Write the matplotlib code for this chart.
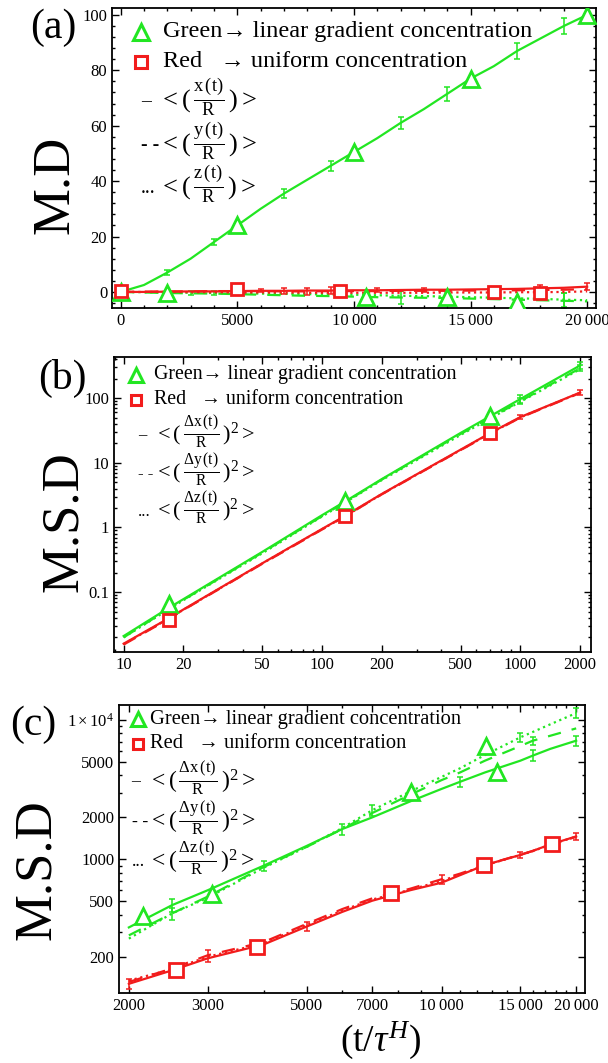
import numpy as np
import matplotlib
matplotlib.use("Agg")
import matplotlib.pyplot as plt
from matplotlib.ticker import FixedLocator, NullFormatter

plt.rcParams['font.family'] = ['Liberation Serif', 'DejaVu Serif']
plt.rcParams['mathtext.fontset'] = 'custom'
plt.rcParams['mathtext.rm'] = 'Liberation Serif'
plt.rcParams['mathtext.it'] = 'Liberation Serif:italic'

GREEN = '#22e622'
RED = '#f21c1c'

# ---------- panel (a): mean displacement ----------
t_a = [0, 1000, 2000, 3000, 4000, 5000, 6000, 7000, 8000, 9000, 10000,
       11000, 12000, 13000, 14000, 15000, 16000, 17000, 18000, 19000, 20000]
green_x_a = [0, 2.5, 7, 12, 18, 24, 30, 35.5, 40.5, 45.5, 50.5,
             55.5, 61, 66, 71.5, 77, 81.5, 87, 91.5, 96, 100]
green_x_a_err = [0, 0, 1, 0, 1.2, 0, 0, 1.5, 0, 1.8, 0,
                 0, 2.2, 0, 2.5, 0, 0, 2.8, 0, 3, 0]
green_y_a = [0, -0.2, -0.4, -0.5, -0.6, -0.8, -1.0, -1.2, -1.4, -1.5, -1.7,
             -1.9, -2.0, -2.1, -2.2, -2.4, -2.6, -2.8, -3.0, -3.2, -3.4]
green_y_a_err = [0, 0, 0, 0, 0, 0, 0, 0, 0, 0, 0,
                 0, 2.5, 0, 0, 0, 0, 0, 0, 2.8, 0]
green_z_a = [0, -0.1, -0.2, -0.3, -0.4, -0.5, -0.6, -0.7, -0.8, -0.9, -1.0,
             -1.2, -1.4, -1.5, -1.7, -1.9, -2.1, -2.3, -2.5, -2.8, -3.0]
green_z_a_err = [0, 0, 0, 0.8, 0.8, 0, 0, 0, 0, 0, 0,
                 0, 0, 0, 0, 0, 0, 0, 0, 2.5, 0]
red_x_a = [0, 0.0, 0.1, 0.2, 0.2, 0.3, 0.4, 0.4, 0.5, 0.5, 0.6,
           0.6, 0.7, 0.8, 0.8, 0.9, 1.0, 1.1, 1.3, 1.5, 1.9]
red_x_a_err = [0, 0, 0, 0, 0, 0, 0.5, 1.2, 0, 1.2, 0,
               0.8, 0, 0.8, 0, 0, 0, 0, 1.2, 0, 1.2]
red_y_a = [0, 0.1, 0.2, 0.2, 0.3, 0.3, 0.3, 0.2, 0.2, 0.3, 0.3,
           0.3, 0.4, 0.4, 0.4, 0.5, 0.5, 0.6, 0.7, 0.8, 1.0]
red_y_a_err = [0, 0, 0, 0, 0, 0, 0, 0, 1.2, 0, 0,
               0, 0, 0, 0, 0, 0, 0, 0, 0, 0]
red_z_a = [0, 0, 0, -0.1, -0.1, -0.2, -0.2, -0.2, -0.3, -0.3, -0.3,
           -0.3, -0.3, -0.3, -0.2, -0.2, -0.2, -0.1, -0.1, 0, 0.2]
red_z_a_err = [0] * 21
green_mk_t_a = [0, 2000, 5000, 10000, 10500, 14000, 15000, 17000, 20000]
green_mk_v_a = [0, -0.5, 24, 50.5, -1.8, -1.8, 77, -3.5, 100]
red_mk_t_a = [0, 5000, 9400, 16000, 18000]
red_mk_v_a = [0.5, 1.2, 0.5, 0.0, -0.5]

# ---------- panel (b): MSD, short times ----------
t_b = [10, 17, 20, 50, 100, 130, 200, 500, 700, 1000, 2000]
green_x_b = [0.021, 0.058, 0.078, 0.42, 1.55, 2.5, 5.6, 29, 52, 97, 320]
green_x_b_err = [0, 0, 0, 0, 0, 0, 0, 0, 0, 14, 40]
green_y_b = [0.020, 0.056, 0.076, 0.41, 1.5, 2.45, 5.5, 28, 49, 90, 290]
green_y_b_err = [0, 0, 0, 0, 0, 0, 0, 0, 0, 10, 30]
green_z_b = [0.020, 0.055, 0.075, 0.40, 1.48, 2.4, 5.4, 27, 48, 88, 280]
green_z_b_err = [0] * 11
red_x_b = [0.016, 0.040, 0.054, 0.28, 0.95, 1.5, 3.3, 16, 28.6, 51, 122]
red_x_b_err = [0, 0, 0, 0, 0, 0, 0, 0, 0, 3, 10]
red_y_b = [0.0155, 0.039, 0.053, 0.275, 0.93, 1.47, 3.25, 15.7, 28, 50, 120]
red_y_b_err = [0] * 11
red_z_b = [0.0158, 0.0395, 0.0535, 0.278, 0.94, 1.48, 3.28, 15.8, 28.3, 50.5, 121]
red_z_b_err = [0] * 11
green_mk_t_b = [17, 130, 700]
green_mk_v_b = [0.065, 2.6, 52]
red_mk_t_b = [17, 130, 700]
red_mk_v_b = [0.037, 1.5, 28.6]

# ---------- panel (c): MSD, long times ----------
t_c = [2000, 2500, 3000, 4000, 5000, 6000, 7000, 8500, 10000, 11000,
       12500, 15000, 16000, 17500, 20000]
green_x_c = [325, 470, 600, 900, 1250, 1650, 2000, 2600, 3200, 3600,
             4200, 5100, 5550, 6200, 7100]
green_x_c_err = [0, 50, 0, 70, 0, 150, 0, 0, 0, 300, 0, 0, 500, 0, 600]
green_y_c = [285, 410, 540, 880, 1230, 1650, 2150, 2900, 3700, 4200,
             5100, 6500, 7100, 7700, 8700]
green_y_c_err = [0, 0, 0, 0, 0, 0, 0, 0, 0, 0, 0, 0, 500, 0, 0]
green_z_c = [270, 410, 530, 870, 1230, 1680, 2250, 3060, 3900, 4500,
             5600, 7500, 8200, 9300, 11200]
green_z_c_err = [0, 40, 0, 0, 0, 0, 200, 0, 0, 0, 0, 600, 0, 0, 900]
red_x_c = [128, 160, 195, 245, 330, 420, 505, 600, 680, 770,
           910, 1075, 1150, 1280, 1460]
red_x_c_err = [10, 0, 0, 0, 25, 0, 0, 0, 0, 0, 0, 60, 0, 0, 80]
red_y_c = [132, 165, 205, 255, 345, 440, 525, 615, 720, 790,
           910, 1080, 1150, 1280, 1450]
red_y_c_err = [0, 0, 20, 0, 0, 0, 0, 0, 50, 0, 0, 0, 0, 0, 0]
red_z_c = [135, 163, 200, 250, 338, 430, 515, 605, 700, 780,
           905, 1075, 1145, 1275, 1455]
red_z_c_err = [0] * 15
green_mk_t_c = [2150, 3070, 8540, 12600, 13320]
green_mk_v_c = [392, 564, 3060, 6500, 4260]
red_mk_t_c = [2550, 3860, 7720, 12460, 17630]
red_mk_v_c = [160, 236, 570, 910, 1290]

legend_green = 'Green\u2192 linear gradient concentration'
legend_red = 'Red   \u2192 uniform concentration'


def series(ax, t, v, err, color, ls):
    t = np.array(t, float)
    v = np.array(v, float)
    err = np.array(err, float)
    ax.plot(t, v, color=color, ls=ls, lw=1.6)
    m = err > 0
    if m.any():
        ax.errorbar(t[m], v[m], yerr=err[m], fmt='none', ecolor=color,
                    elinewidth=1.1, capsize=2.2, capthick=1.1)


def markers(ax, t, v, color, shape, size):
    ax.plot(t, v, ls='none', marker=shape, ms=size, mfc='white',
            mec=color, mew=2.0, zorder=5)


def style(ax):
    for s in ax.spines.values():
        s.set_linewidth(1.3)
    ax.tick_params(which='both', direction='in', top=True, right=True,
                   labelsize=12, width=1.0)
    ax.tick_params(which='major', length=5)
    ax.tick_params(which='minor', length=2.5)


def legend(ax, x_mk, x_txt, y_rows, fr_rows, x_dash, fracs, fs, ffs, gap, ms):
    ax.plot([x_mk], [y_rows[0]], transform=ax.transAxes, marker='^', ms=ms,
            mfc='white', mec=GREEN, mew=2.2, ls='none', clip_on=False)
    ax.plot([x_mk], [y_rows[1]], transform=ax.transAxes, marker='s',
            ms=ms * 0.78, mfc='white', mec=RED, mew=2.2, ls='none',
            clip_on=False)
    ax.text(x_txt, y_rows[0], legend_green, transform=ax.transAxes,
            fontsize=fs, va='center')
    ax.text(x_txt, y_rows[1], legend_red, transform=ax.transAxes,
            fontsize=fs, va='center')
    for y, lead, f in zip(fr_rows, ['\u2013', '- -', '...'], fracs):
        ax.text(x_dash, y - 0.012, lead, transform=ax.transAxes,
                fontsize=ffs * 0.75, va='center', ha='left')
        ax.text(x_dash + gap, y, f, transform=ax.transAxes, fontsize=ffs,
                va='center', ha='left')


fig = plt.figure(figsize=(6.08, 10.63), dpi=100)
W, H = 608, 1063


def axes_px(l, r, t, b):
    return fig.add_axes([l / W, 1 - b / H, (r - l) / W, (b - t) / H])


# ----- (a) -----
ax = axes_px(112, 596, 8, 308)
series(ax, t_a, green_x_a, green_x_a_err, GREEN, '-')
series(ax, t_a, green_y_a, green_y_a_err, GREEN, (0, (6, 5)))
series(ax, t_a, green_z_a, green_z_a_err, GREEN, ':')
series(ax, t_a, red_x_a, red_x_a_err, RED, '-')
series(ax, t_a, red_y_a, red_y_a_err, RED, (0, (6, 5)))
series(ax, t_a, red_z_a, red_z_a_err, RED, ':')
markers(ax, green_mk_t_a, green_mk_v_a, GREEN, '^', 11)
markers(ax, red_mk_t_a, red_mk_v_a, RED, 's', 9)
ax.set_xlim(-370, 20380)
ax.set_ylim(-5.8, 102.5)
ax.xaxis.set_major_locator(FixedLocator([0, 5000, 10000, 15000, 20000]))
ax.set_xticklabels(['0', '5000', '10\u2009000', '15\u2009000', '20\u2009000'])
ax.xaxis.set_minor_locator(FixedLocator(np.arange(0, 20001, 1000)))
ax.yaxis.set_major_locator(FixedLocator([0, 20, 40, 60, 80, 100]))
ax.yaxis.set_minor_locator(FixedLocator(np.arange(-4, 101, 4)))
style(ax)
legend(ax, 0.06, 0.105, [0.92, 0.82], [0.70, 0.555, 0.41], 0.06,
       [r'$<(\,\frac{\mathrm{x\,(t)}}{\mathrm{R}}\,)>$',
        r'$<(\,\frac{\mathrm{y\,(t)}}{\mathrm{R}}\,)>$',
        r'$<(\,\frac{\mathrm{z\,(t)}}{\mathrm{R}}\,)>$'], 17.5, 19, 0.038, 11)
fig.text(55 / W, 1 - 185 / H, 'M.D', rotation=90, fontsize=38,
         ha='center', va='center')
fig.text(53 / W, 1 - 28 / H, '(a)', fontsize=30, ha='center', va='center')

# ----- (b) -----
ax = axes_px(114, 591, 357, 652)
ax.set_xscale('log')
ax.set_yscale('log')
series(ax, t_b, green_x_b, green_x_b_err, GREEN, '-')
series(ax, t_b, green_y_b, green_y_b_err, GREEN, (0, (6, 5)))
series(ax, t_b, green_z_b, green_z_b_err, GREEN, ':')
series(ax, t_b, red_x_b, red_x_b_err, RED, '-')
series(ax, t_b, red_y_b, red_y_b_err, RED, (0, (6, 5)))
series(ax, t_b, red_z_b, red_z_b_err, RED, ':')
markers(ax, green_mk_t_b, green_mk_v_b, GREEN, '^', 11)
markers(ax, red_mk_t_b, red_mk_v_b, RED, 's', 9)
ax.set_xlim(8.94, 2268)
ax.set_ylim(0.0119, 432)
xt = [10, 20, 50, 100, 200, 500, 1000, 2000]
ax.xaxis.set_major_locator(FixedLocator(xt))
ax.set_xticklabels([str(v) for v in xt])
ax.xaxis.set_minor_locator(FixedLocator(
    [m * 10 ** e for e in range(0, 4) for m in range(1, 10)]))
ax.xaxis.set_minor_formatter(NullFormatter())
ax.yaxis.set_major_locator(FixedLocator([0.1, 1, 10, 100]))
ax.set_yticklabels(['0.1', '1', '10', '100'])
ax.yaxis.set_minor_locator(FixedLocator(
    [m * 10.0 ** e for e in range(-2, 3) for m in range(1, 10)]))
ax.yaxis.set_minor_formatter(NullFormatter())
style(ax)
legend(ax, 0.046, 0.084, [0.94, 0.855], [0.746, 0.617, 0.488], 0.05,
       [r'$<(\,\frac{\mathrm{\Delta x\,(t)}}{\mathrm{R}}\,)^2>$',
        r'$<(\,\frac{\mathrm{\Delta y\,(t)}}{\mathrm{R}}\,)^2>$',
        r'$<(\,\frac{\mathrm{\Delta z\,(t)}}{\mathrm{R}}\,)^2>$'],
       14.3, 16, 0.034, 10)
fig.text(64 / W, 1 - 522 / H, 'M.S.D', rotation=90, fontsize=38,
         ha='center', va='center')
fig.text(62 / W, 1 - 378 / H, '(b)', fontsize=30, ha='center', va='center')

# ----- (c) -----
ax = axes_px(119, 585, 705, 993)
ax.set_xscale('log')
ax.set_yscale('log')
series(ax, t_c, green_x_c, green_x_c_err, GREEN, '-')
series(ax, t_c, green_y_c, green_y_c_err, GREEN, (0, (6, 5)))
series(ax, t_c, green_z_c, green_z_c_err, GREEN, ':')
series(ax, t_c, red_x_c, red_x_c_err, RED, '-')
series(ax, t_c, red_y_c, red_y_c_err, RED, (0, (6, 5)))
series(ax, t_c, red_z_c, red_z_c_err, RED, ':')
markers(ax, green_mk_t_c, green_mk_v_c, GREEN, '^', 11)
markers(ax, red_mk_t_c, red_mk_v_c, RED, 's', 10)
ax.set_xlim(1901, 20930)
ax.set_ylim(110, 12800)
xt = [2000, 3000, 5000, 7000, 10000, 15000, 20000]
ax.xaxis.set_major_locator(FixedLocator(xt))
ax.set_xticklabels(['2000', '3000', '5000', '7000', '10\u2009000',
                    '15\u2009000', '20\u2009000'])
ax.xaxis.set_minor_locator(FixedLocator(
    [m * 1000 for m in range(2, 21)]))
ax.xaxis.set_minor_formatter(NullFormatter())
yt = [200, 500, 1000, 2000, 5000, 10000]
ax.yaxis.set_major_locator(FixedLocator(yt))
ax.set_yticklabels(['200', '500', '1000', '2000', '5000', r'$1\times10^4$'])
ax.yaxis.set_minor_locator(FixedLocator(
    [m * 10.0 ** e for e in range(2, 5) for m in range(1, 10)]))
ax.yaxis.set_minor_formatter(NullFormatter())
style(ax)
legend(ax, 0.04, 0.067, [0.95, 0.865], [0.746, 0.607, 0.469], 0.027,
       [r'$<(\,\frac{\mathrm{\Delta x\,(t)}}{\mathrm{R}}\,)^2>$',
        r'$<(\,\frac{\mathrm{\Delta y\,(t)}}{\mathrm{R}}\,)^2>$',
        r'$<(\,\frac{\mathrm{\Delta z\,(t)}}{\mathrm{R}}\,)^2>$'],
       14.8, 17, 0.036, 10)
fig.text(37 / W, 1 - 870 / H, 'M.S.D', rotation=90, fontsize=38,
         ha='center', va='center')
fig.text(33 / W, 1 - 725 / H, '(c)', fontsize=30, ha='center', va='center')
fig.text(380 / W, 1 - 1040 / H, r'$(\mathrm{t}/\tau^{H})$', fontsize=27,
         ha='center', va='center')

fig.savefig('out.png', dpi=100)
